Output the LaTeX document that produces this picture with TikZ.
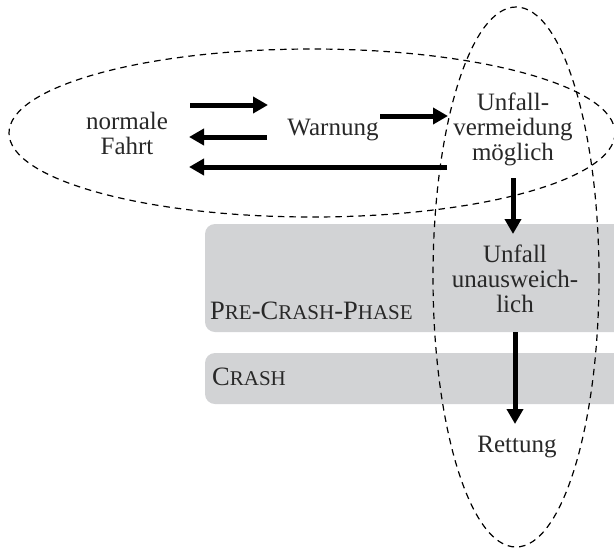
\documentclass[tikz,border=0pt]{standalone}
\usepackage{fontspec}
\setmainfont{Liberation Serif}
\usetikzlibrary{arrows.meta}
\definecolor{phasegray}{RGB}{210,211,213}
\definecolor{ink}{RGB}{40,40,40}
% hand-made small capitals for the phase labels
\newcommand{\lowcaps}[1]{{\fontsize{21}{25}\selectfont #1}}
\tikzset{
  lbl/.style={align=center, text=ink, font=\fontsize{25}{25}\selectfont, inner sep=0pt},
  phaselbl/.style={anchor=base west, text=ink, font=\fontsize{26.5}{25}\selectfont, inner sep=0pt},
  phasebox/.style={fill=phasegray, rounded corners=10pt},
  region/.style={draw=black, line width=1.2pt, dash pattern=on 6.5pt off 5pt},
  flow/.style={line width=5pt, -{Triangle[length=15pt,width=16pt]}}
}
\begin{document}
\begin{tikzpicture}[x=1pt, y=-1pt]
  \useasboundingbox (0,0) rectangle (614,550);

  % phase bands
  \fill[phasebox] (205,224) rectangle (640,332);
  \fill[phasebox] (205,353) rectangle (640,404);
  \node[phaselbl] (pre) at (210,319) {P\lowcaps{RE}-C\lowcaps{RASH}-P\lowcaps{HASE}};
  \node[phaselbl] (crash) at (212,385) {C\lowcaps{RASH}};

  % groupings
  \draw[region] (312,133) ellipse [x radius=303, y radius=84];
  \draw[region] (516,277) ellipse [x radius=83, y radius=270];

  % states
  \node[lbl] (fahrt) at (127,133) {normale\\Fahrt};
  \node[lbl] (warn) at (333,130) {Warnung};
  \node[lbl] (moegl) at (513,129) {Unfall-\\vermeidung\\möglich};
  \node[lbl] (unaus) at (515,279) {Unfall\\unausweich-\\lich};
  \node[lbl] (rett) at (517,447) {Rettung};

  % connector ends
  \coordinate (f1) at (190,105);
  \coordinate (w1) at (268,105);
  \coordinate (w2) at (267,137);
  \coordinate (f2) at (189,137);
  \coordinate (w3) at (380,116);
  \coordinate (m1) at (448,116);
  \coordinate (m2) at (447,167);
  \coordinate (f3) at (189,167);
  \coordinate (m3) at (513,178);
  \coordinate (u1) at (513,234);
  \coordinate (u2) at (515,332);
  \coordinate (r1) at (515,424);

  % transitions
  \draw[flow] (f1) -- (w1);
  \draw[flow] (w2) -- (f2);
  \draw[flow] (w3) -- (m1);
  \draw[flow] (m2) -- (f3);
  \draw[flow] (m3) -- (u1);
  \draw[flow] (u2) -- (r1);
\end{tikzpicture}
\end{document}
